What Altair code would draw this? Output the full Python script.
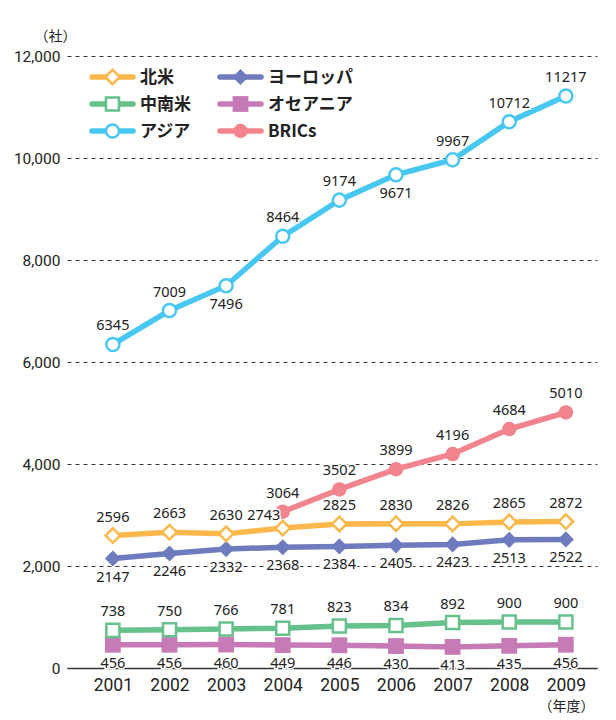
import altair as alt
import pandas as pd

years = [2001, 2002, 2003, 2004, 2005, 2006, 2007, 2008, 2009]
north_america = [2596, 2663, 2630, 2743, 2825, 2830, 2826, 2865, 2872]
europe = [2147, 2246, 2332, 2368, 2384, 2405, 2423, 2513, 2522]
latin_america = [738, 750, 766, 781, 823, 834, 892, 900, 900]
oceania = [456, 456, 460, 449, 446, 430, 413, 435, 456]
asia = [6345, 7009, 7496, 8464, 9174, 9671, 9967, 10712, 11217]
brics = [None, None, None, 3064, 3502, 3899, 4196, 4684, 5010]

series = [
    dict(name="北米", vals=north_america, color="#FDB84C", shape="diamond", filled=False, size=210, col=0, row=0, below=[]),
    dict(name="中南米", vals=latin_america, color="#67C18C", shape="square", filled=False, size=170, col=0, row=1, below=[]),
    dict(name="アジア", vals=asia, color="#47C7F2", shape="circle", filled=False, size=170, col=0, row=2, below=[2003, 2006]),
    dict(name="ヨーロッパ", vals=europe, color="#6E7BBE", shape="diamond", filled=True, size=260, col=1, row=0, below="all"),
    dict(name="オセアニア", vals=oceania, color="#C67AB6", shape="square", filled=True, size=250, col=1, row=1, below="all"),
    dict(name="BRICs", vals=brics, color="#F2848D", shape="circle", filled=True, size=210, col=1, row=2, below=[]),
]
draw_order = ["オセアニア", "中南米", "ヨーロッパ", "北米", "BRICs", "アジア"]

LABEL_FONT = "Noto Sans"
AXIS_FONT = "Roboto"
x_scale = alt.Scale(domain=[2000.19, 2009.55], nice=False, zero=False)
y_scale = alt.Scale(domain=[0, 12000], nice=False)

X = alt.X("year:Q", scale=x_scale, axis=alt.Axis(
    values=years, format="d", labelFontSize=17.5, labelFont=AXIS_FONT,
    labelColor="#222", grid=False, ticks=False, domainColor="#333", domainWidth=1.5,
    labelPadding=8, labelFlush=False, title="（年度）", titleX=499, titleY=31,
    titleBaseline="top", titleFontSize=14, titleFontWeight="normal", titleColor="#222",
    titleFont="Noto Sans CJK JP"))
Y = alt.Y("value:Q", scale=y_scale, axis=alt.Axis(
    values=list(range(0, 12001, 2000)), format=",d", labelFontSize=15.5,
    labelFont=AXIS_FONT, labelColor="#222", grid=True, gridDash=[4, 4],
    gridColor="#333", gridWidth=1, domain=False, ticks=False, labelPadding=7,
    title="（社）", titleAngle=0, titleX=-12, titleY=-20, titleAlign="center",
    titleBaseline="middle", titleFontSize=14, titleFontWeight="normal", titleColor="#222",
    titleFont="Noto Sans CJK JP"))

layers = []
by_name = {s["name"]: s for s in series}
for nm in draw_order:
    s = by_name[nm]
    df = pd.DataFrame([dict(year=y, value=v) for y, v in zip(years, s["vals"]) if v is not None])
    layers.append(alt.Chart(df).mark_line(color=s["color"], strokeWidth=5.5, strokeCap="round").encode(x=X, y=Y))
    if s["filled"]:
        pt = alt.Chart(df).mark_point(shape=s["shape"], filled=True, color=s["color"], size=s["size"], opacity=1)
    else:
        pt = alt.Chart(df).mark_point(shape=s["shape"], filled=False, fill="white", fillOpacity=1, stroke=s["color"], strokeWidth=2.5, size=s["size"], opacity=1)
    layers.append(pt.encode(x=X, y=Y))

# value labels
for s in series:
    df = pd.DataFrame([dict(year=y, value=v) for y, v in zip(years, s["vals"]) if v is not None])
    if s["below"] == "all":
        below = df
        above = df.iloc[0:0]
    else:
        below = df[df.year.isin(s["below"])]
        above = df[~df.year.isin(s["below"])]
    special = pd.DataFrame()
    if s["name"] == "北米":
        special = above[above.year == 2004]
        above = above[above.year != 2004]
    for part, dx, dy in [(above, 0, -18), (below, 0, 19), (special, -19, -12)]:
        if len(part) == 0:
            continue
        for halo in (True, False):
            kw = dict(font=LABEL_FONT, fontSize=14.5, dx=dx, dy=dy, baseline="middle", align="center")
            if halo:
                m = alt.Chart(part).mark_text(stroke="white", strokeWidth=3, color="white", **kw)
            else:
                m = alt.Chart(part).mark_text(color="#222", **kw)
            layers.append(m.encode(x=X, y=Y, text=alt.Text("value:Q", format="d")))

# legend
for s in series:
    x0 = 25 + s["col"] * 128
    yy = 21 + s["row"] * 27
    ldf = pd.DataFrame([dict(name=s["name"])])
    layers.append(alt.Chart(ldf).mark_rule(color=s["color"], strokeWidth=5.5, strokeCap="round").encode(
        x=alt.value(x0), x2=alt.value(x0 + 41), y=alt.value(yy)))
    if s["filled"]:
        lp = alt.Chart(ldf).mark_point(shape=s["shape"], filled=True, color=s["color"], size=s["size"], opacity=1)
    else:
        lp = alt.Chart(ldf).mark_point(shape=s["shape"], filled=False, fill="white", fillOpacity=1, stroke=s["color"], strokeWidth=2.5, size=s["size"], opacity=1)
    layers.append(lp.encode(x=alt.value(x0 + 20.5), y=alt.value(yy)))
    layers.append(alt.Chart(ldf).mark_text(align="left", baseline="middle", font="Noto Sans CJK JP",
                                           fontSize=17, fontWeight="bold", color="#222").encode(
        x=alt.value(x0 + 48), y=alt.value(yy + 1), text="name:N"))

chart = alt.layer(*layers).properties(
    width=530, height=612,
    autosize=alt.AutoSizeParams(type="none"),
    padding={"left": 59, "top": 48, "right": 10, "bottom": 52},
    background="white",
).configure_view(stroke=None)

chart.save("out.html", embed_options={"renderer": "svg", "actions": False})
